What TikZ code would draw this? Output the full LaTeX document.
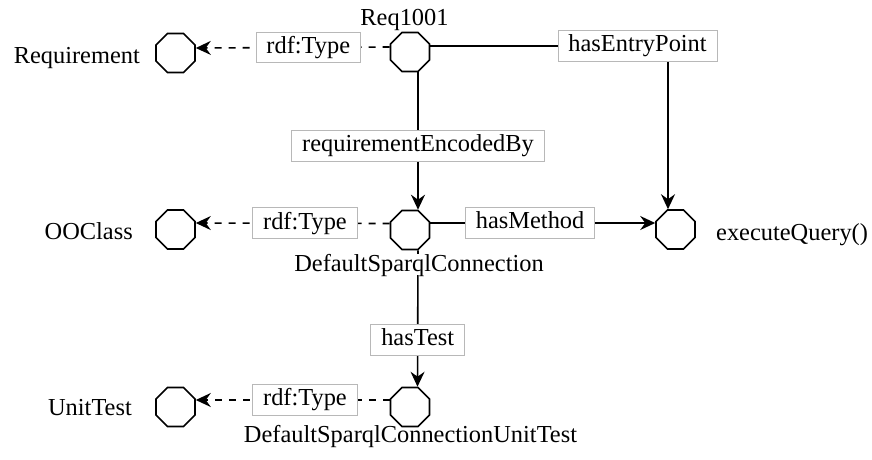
\documentclass[tikz,border=0pt]{standalone}
\usepackage{fontspec}
\setmainfont{Liberation Serif}
\usetikzlibrary{shapes.geometric,arrows.meta}
\begin{document}
\begin{tikzpicture}[x=1pt,y=-1pt,
  oct/.style={draw,line width=1.6pt,regular polygon,regular polygon sides=8,minimum size=42.2pt,inner sep=0pt},
  txt/.style={inner sep=0pt,font=\fontsize{24.4}{29}\selectfont},
  lab/.style={draw=black!28,line width=0.8pt,fill=white,inner xsep=10.5pt,inner ysep=4.2pt,text height=17pt,text depth=5.5pt,font=\fontsize{24.4}{29}\selectfont},
  conn/.style={line width=1.6pt},
  arr/.style={-{Stealth[length=15pt,width=14pt,inset=5pt]}},
  dsh/.style={dash pattern=on 7pt off 7pt}]
\useasboundingbox (0,0) rectangle (872,459);
% octagons
\node[oct] (R) at (175.5,53) {};
\node[oct] (Q) at (410,52) {};
\node[oct] (O) at (175.5,229.5) {};
\node[oct] (D) at (410,230) {};
\node[oct] (E) at (675.5,229.5) {};
\node[oct] (U) at (175.5,407) {};
\node[oct] (T) at (410,407) {};
% connectors
\draw[conn,dsh,arr] ([yshift=5pt]Q.west) -- ([yshift=5pt]R.east)
  node[lab,pos=0.42,solid] (l1) {rdf:Type};
\draw[conn,dsh,arr] ([yshift=6.5pt]D.west) -- ([yshift=6.5pt]O.east)
  node[lab,pos=0.437,solid] (l2) {rdf:Type};
\draw[conn,dsh,arr] ([yshift=7pt]T.west) -- ([yshift=7pt]U.east)
  node[lab,pos=0.437,solid] (l3) {rdf:Type};
\draw[conn,arr] ([yshift=6pt]Q.east) -| ([xshift=-7.5pt]E.north)
  node[lab,pos=0.436] (l4) {hasEntryPoint};
\draw[conn,arr] ([xshift=8pt]Q.south) -- ([xshift=8pt]D.north)
  node[lab,pos=0.536] (l5) {requirementEncodedBy};
\draw[conn,arr] ([yshift=7pt]D.east) -- ([yshift=6.5pt]E.west)
  node[lab,pos=0.444] (l6) {hasMethod};
\draw[conn,arr] ([xshift=8pt]D.south) -- ([xshift=7.5pt]T.north)
  node[lab,pos=0.656] (l7) {hasTest};
% names
\node[txt,anchor=base east] (tR) at (140,63) {Requirement};
\node[txt,anchor=base] (tQ) at (404.5,25) {Req1001};
\node[txt,anchor=base east] (tO) at (133,239) {OOClass};
\node[txt,anchor=base,fill=white,text depth=4pt] (tD) at (419,271) {DefaultSparqlConnection};
\node[txt,anchor=base west] (tE) at (716,240) {executeQuery()};
\node[txt,anchor=base east] (tU) at (132,415) {UnitTest};
\node[txt,anchor=base] (tT) at (410.5,442) {DefaultSparqlConnectionUnitTest};
\end{tikzpicture}
\end{document}
